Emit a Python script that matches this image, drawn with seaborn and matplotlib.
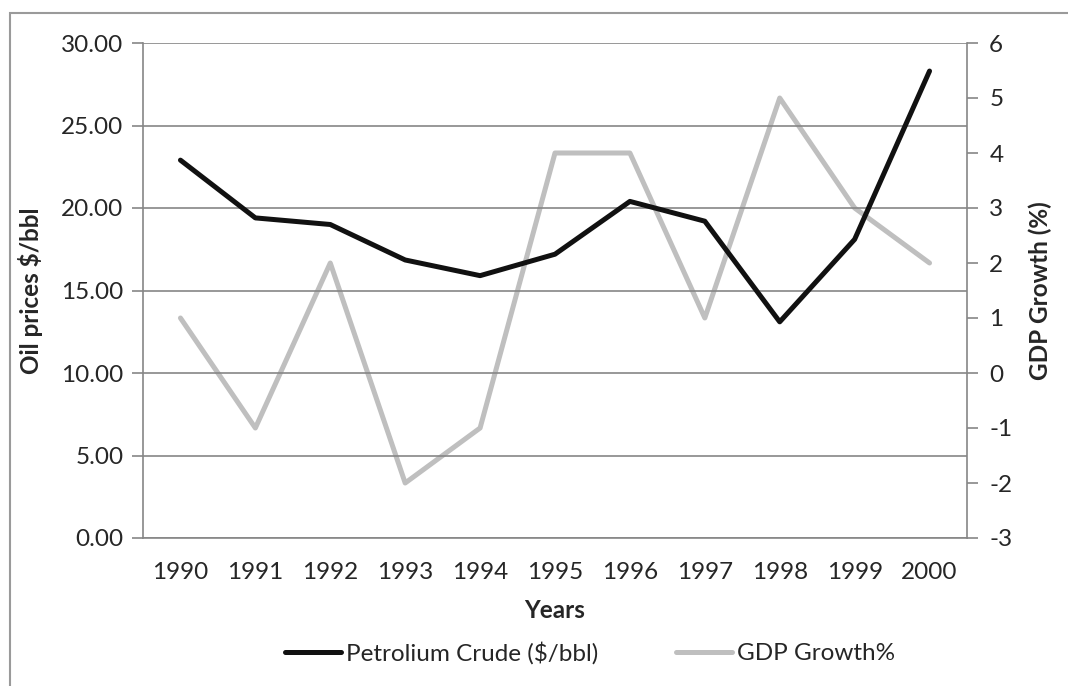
import matplotlib
matplotlib.use("Agg")
import matplotlib.pyplot as plt
import seaborn as sns
import pandas as pd
import numpy as np
from matplotlib.lines import Line2D
from matplotlib.patches import Rectangle

years = ["1990", "1991", "1992", "1993", "1994", "1995", "1996", "1997", "1998", "1999", "2000"]
oil_price = [22.9, 19.4, 19.0, 16.85, 15.9, 17.2, 20.4, 19.2, 13.1, 18.1, 28.3]
gdp_growth = [1, -1, 2, -2, -1, 4, 4, 1, 5, 3, 2]
left_ticks = [0, 5, 10, 15, 20, 25, 30]
right_ticks = [-3, -2, -1, 0, 1, 2, 3, 4, 5, 6]

sns.set_theme(style="white")
plt.rcParams['font.family'] = ['Lato', 'DejaVu Sans']

df = pd.DataFrame({"pos": np.arange(len(years)), "year": years,
                   "oil": oil_price, "gdp": gdp_growth})

W, H = 1068, 686
fig = plt.figure(figsize=(W / 100, H / 100), dpi=100)
L, R, T, B = 143, 967, 43, 538
ax = fig.add_axes([L / W, 1 - B / H, (R - L) / W, (B - T) / H])
ax2 = ax.twinx()

grid_c = "#868686"
fs = 17.5

sns.lineplot(data=df, x="pos", y="oil", ax=ax, color="#111111", linewidth=3.6,
             solid_capstyle="round", solid_joinstyle="round", legend=False, zorder=2)
sns.lineplot(data=df, x="pos", y="gdp", ax=ax2, color="#BFBFBF", linewidth=3.6,
             solid_capstyle="round", solid_joinstyle="round", legend=False, zorder=1)
ax.set_zorder(ax2.get_zorder() + 1)
ax.patch.set_visible(False)

n = len(years)
ax.set_xlim(-0.5, n - 0.5)
ax.set_ylim(0, 30)
ax2.set_ylim(-3, 6)
ax.set_yticks(left_ticks)
ax.set_yticklabels([f"{v:.2f}" for v in left_ticks], fontsize=fs)
ax2.set_yticks(right_ticks)
ax2.set_yticklabels([str(v) for v in right_ticks], fontsize=fs)

ax.set_xticks(np.arange(-0.5, n, 1.0))
ax.set_xticklabels([])
ax.set_xticks(np.arange(n), minor=True)
ax.set_xticklabels(years, minor=True, fontsize=fs)
ax.tick_params(axis="x", which="major", length=8, width=1.2, color=grid_c, direction="out")
ax.tick_params(axis="x", which="minor", length=0, pad=17)
ax.tick_params(axis="y", length=8, width=1.2, color=grid_c, direction="out", pad=6)
ax2.tick_params(axis="y", length=8, width=1.2, color=grid_c, direction="out", pad=8)

ax.yaxis.grid(True, color=grid_c, linewidth=1.2)
ax.xaxis.grid(False)
ax2.grid(False)

for a in (ax, ax2):
    for s in a.spines.values():
        s.set_visible(False)
ax.spines["left"].set_visible(True)
ax.spines["bottom"].set_visible(True)
ax2.spines["right"].set_visible(True)
for s in (ax.spines["left"], ax.spines["bottom"], ax2.spines["right"]):
    s.set_color(grid_c)
    s.set_linewidth(1.2)

ax.set_xlabel("Years", fontsize=fs, fontweight="bold", labelpad=12)
ax.set_ylabel("Oil prices $/bbl", fontsize=fs, fontweight="bold", labelpad=13)
ax2.set_ylabel("GDP Growth (%)", fontsize=fs, fontweight="bold", labelpad=12)

handles = [Line2D([0], [0], color="#111111", lw=3.6, solid_capstyle="round"),
           Line2D([0], [0], color="#BFBFBF", lw=3.6, solid_capstyle="round")]
fig.legend(handles, ["Petrolium Crude ($/bbl)", "GDP Growth%"], loc="center",
           bbox_to_anchor=(590 / W, 1 - 653 / H), ncol=2, frameon=False,
           fontsize=fs, handlelength=2.3, handletextpad=0.2, columnspacing=3.2)

fig.patches.append(Rectangle((10 / W, -0.01), 1.02, 1 - 13 / H + 0.01,
                             transform=fig.transFigure, fill=False,
                             edgecolor="#9a9a9a", linewidth=1.5))

fig.savefig("out.png", dpi=100)
